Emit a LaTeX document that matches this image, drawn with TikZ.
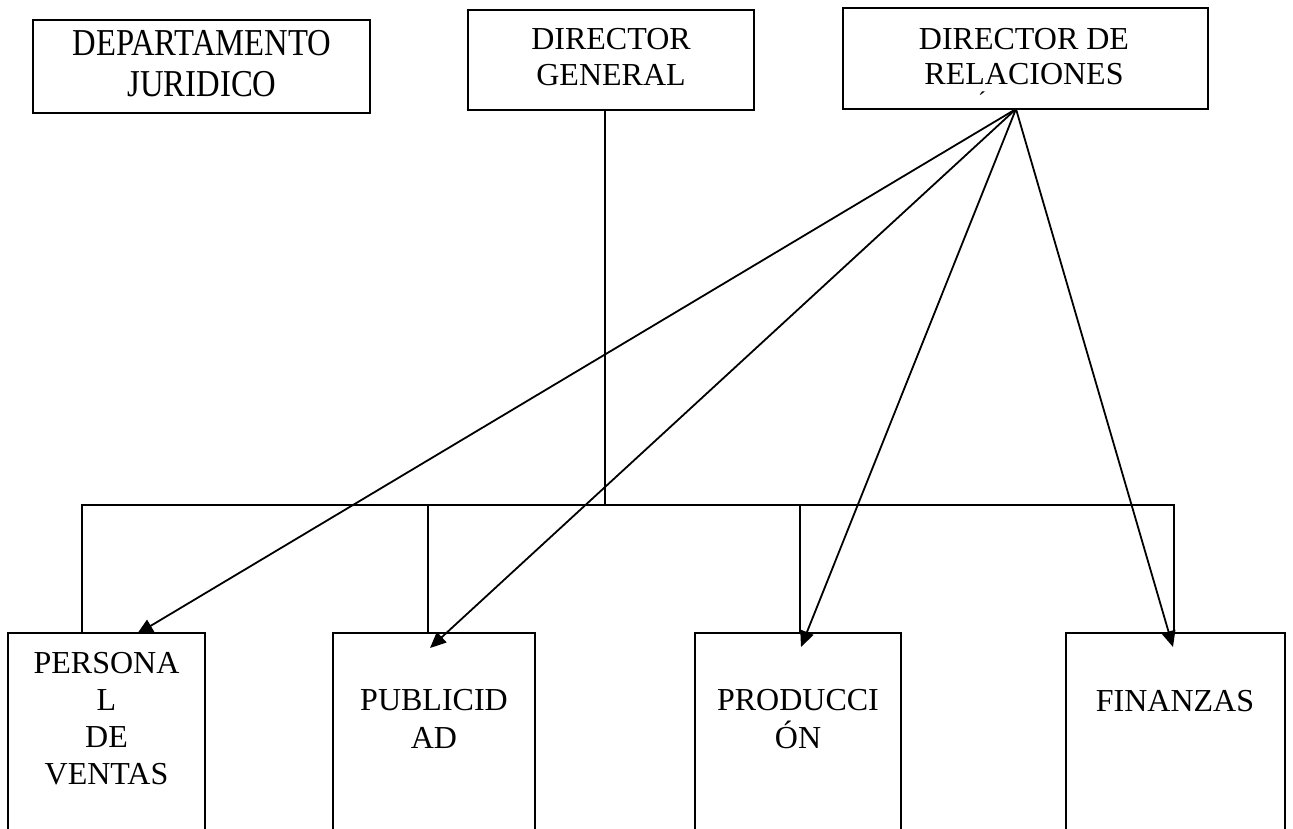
\documentclass[tikz,border=0pt]{standalone}
\usepackage{fontspec}
\setmainfont{Liberation Serif}
\newfontfamily\djfont[FakeStretch=0.86]{Liberation Serif}
\usetikzlibrary{arrows.meta,calc}
\begin{document}
\begin{tikzpicture}[x=1pt,y=-1pt,
  box/.style={draw,line width=1.8pt,inner sep=0pt,outer sep=0pt,anchor=north west},
  lbl/.style={anchor=base,inner sep=0pt,font=\fontsize{32}{36}\selectfont},
  djlbl/.style={anchor=base,inner sep=0pt,font=\djfont\fontsize{38}{42}\selectfont},
  link/.style={line width=1.8pt},
  arr/.style={line width=1.8pt,-{Triangle[length=16pt,width=14pt]}}]
\useasboundingbox (0,0) rectangle (1293,829);
\clip (0,0) rectangle (1293,829);
% top boxes
\node[box,minimum width=337pt,minimum height=93pt] (dj) at (33,20) {};
\node[djlbl] (dj1) at (202,56) {DEPARTAMENTO};
\node[djlbl] (dj2) at (202,97) {JURIDICO};
\node[box,minimum width=286pt,minimum height=100pt] (dg) at (468,10) {};
\node[lbl] (dg1) at (611,50) {DIRECTOR};
\node[lbl] (dg2) at (611,86) {GENERAL};
\node[box,minimum width=365pt,minimum height=101pt] (dr) at (843,8) {};
\node[lbl] (dr1) at (1024,50) {DIRECTOR DE};
\node[lbl] (dr2) at (1024,85) {RELACIONES};
\node[anchor=north,inner sep=0pt,font=\fontsize{24}{28}\selectfont] (acc) at (982,92) {´};
% bottom boxes
\node[box,minimum width=197pt,minimum height=230pt] (pv) at (8,633) {};
\node[lbl] (pv1) at (106.5,673) {PERSONA};
\node[lbl] (pv2) at (106.5,710) {L};
\node[lbl] (pv3) at (106.5,747) {DE};
\node[lbl] (pv4) at (106.5,784) {VENTAS};
\node[box,minimum width=202pt,minimum height=230pt] (pu) at (333,633) {};
\node[lbl] (pu1) at (434,710) {PUBLICID};
\node[lbl] (pu2) at (434,748) {AD};
\node[box,minimum width=206pt,minimum height=230pt] (pr) at (695,633) {};
\node[lbl] (pr1) at (798,710) {PRODUCCI};
\node[lbl] (pr2) at (798,748) {ÓN};
\node[box,minimum width=219pt,minimum height=230pt] (fi) at (1066,633) {};
\node[lbl] (fi1) at (1175,711) {FINANZAS};
% org lines
\coordinate (dgdown) at ($(dg.south)+(-6,0)$);
\coordinate (bus) at (605,505);
\coordinate (d1) at ($(pv.north west)+(74,0)$);
\coordinate (d2) at ($(pu.north west)+(95,0)$);
\coordinate (d3) at ($(pr.north west)+(105,0)$);
\coordinate (d4) at ($(fi.north west)+(108,0)$);
\draw[link] (dgdown) -- (bus);
\draw[link] (d1) -- (d1 |- bus) -- (d4 |- bus) -- (d4);
\draw[link] (d2 |- bus) -- (d2);
\draw[link] (d3 |- bus) -- (d3);
% arrows
\coordinate (src) at ($(dr.south west)+(173,0)$);
\coordinate (t1) at ($(pv.north west)+(129,1)$);
\coordinate (t2) at ($(pu.north west)+(97,15)$);
\coordinate (t3) at ($(pr.north west)+(106,14)$);
\coordinate (t4) at ($(fi.north west)+(107,14)$);
\draw[arr] (src) -- (t1);
\draw[arr] (src) -- (t2);
\draw[arr] (src) -- (t3);
\draw[arr] (src) -- (t4);
\end{tikzpicture}
\end{document}
